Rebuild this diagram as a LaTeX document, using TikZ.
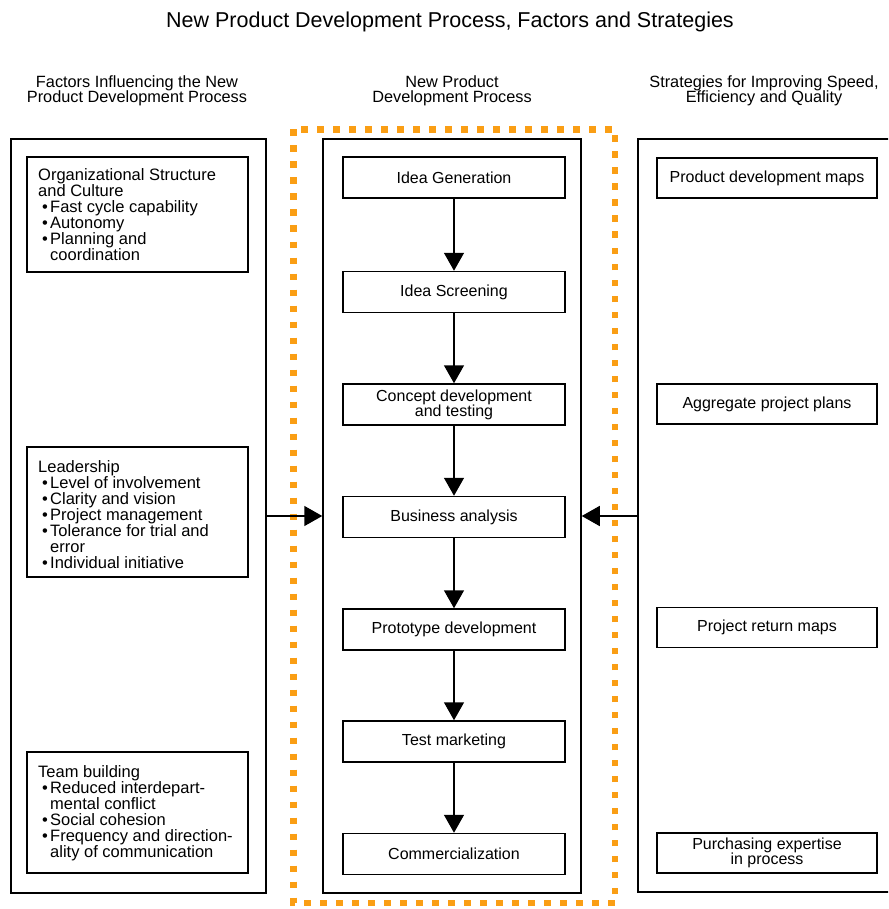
\documentclass[tikz,border=0pt]{standalone}
\usepackage{fontspec}
\setmainfont{Liberation Sans}
\usetikzlibrary{arrows.meta}
\definecolor{npdorange}{RGB}{250,158,20}
% bullet and continuation indents for the factor lists
\newcommand{\bitem}{\hspace*{4pt}\makebox[8pt][l]{\textbullet}}
\newcommand{\cont}{\hspace*{12pt}}
\begin{document}
\begin{tikzpicture}[x=1pt,y=-1pt,
  frame/.style={draw, line width=1.5pt, inner sep=0pt},
  stage/.style={draw, line width=1.5pt, inner sep=0pt, minimum width=222pt,
    minimum height=41pt, align=center, font=\fontsize{16}{15}\selectfont},
  strat/.style={draw, line width=1.5pt, inner sep=0pt, minimum width=220pt,
    minimum height=40pt, align=center, font=\fontsize{16}{15}\selectfont},
  factor/.style={draw, line width=1.5pt, inner sep=0pt, minimum width=221pt},
  factortext/.style={anchor=north west, inner sep=0pt, align=left,
    font=\fontsize{16.5}{16}\selectfont},
  header/.style={anchor=north, inner sep=0pt, align=center,
    font=\fontsize{16.3}{15.5}\selectfont},
  flow/.style={line width=1.5pt, -{Triangle[length=18pt,width=20pt]}},
  dotline/.style={draw=npdorange, line width=6.5pt, dash pattern=on 6.5pt off 9.5pt}]
\fill[white] (0,0) rectangle (888,909);
\useasboundingbox (0,0) rectangle (888,909);
\clip (0,0) rectangle (888,909);

% title and column headers
\node[anchor=base, inner sep=0pt, font=\fontsize{21.5}{22}\selectfont] (title) at (450,28)
  {New Product Development Process, Factors and Strategies};
\node[header] (hleft) at (137,75) {Factors Influencing the New\\Product Development Process};
\node[header] (hmid) at (452,75) {New Product\\Development Process};
\node[header] (hright) at (764,75) {Strategies for Improving Speed,\\Efficiency and Quality};

% dotted highlight around the process column
\draw[dotline] (293.5,129.5) rectangle (615,903);

% column frames
\node[frame, minimum width=255pt, minimum height=754pt] (left) at (138.5,516) {};
\node[frame, minimum width=258pt, minimum height=754pt] (mid) at (452,516) {};
\node[frame, minimum width=262pt, minimum height=753pt] (right) at (769,515.5) {};

% factors
\node[factor, minimum height=115pt] (f1) at (137.5,214.5) {};
\node[factortext] (f1t) at (38,168) {Organizational Structure\\and Culture\\
  \bitem Fast cycle capability\\ \bitem Autonomy\\ \bitem Planning and\\ \cont coordination};
\node[factor, minimum height=130pt] (f2) at (137.5,512) {};
\node[factortext] (f2t) at (38,460) {Leadership\\ \bitem Level of involvement\\
  \bitem Clarity and vision\\ \bitem Project management\\ \bitem Tolerance for trial and\\
  \cont error\\ \bitem Individual initiative};
\node[factor, minimum height=121pt] (f3) at (137.5,812.5) {};
\node[factortext] (f3t) at (38,765) {Team building\\ \bitem Reduced interdepart-\\
  \cont mental conflict\\ \bitem Social cohesion\\ \bitem Frequency and direction-\\
  \cont ality of communication};

% process stages
\node[stage] (s1) at (454,177.5) {Idea Generation};
\node[stage] (s2) at (454,292) {Idea Screening};
\node[stage] (s3) at (454,404.5) {Concept development\\and testing};
\node[stage] (s4) at (454,517) {Business analysis};
\node[stage] (s5) at (454,629.5) {Prototype development};
\node[stage] (s6) at (454,741.5) {Test marketing};
\node[stage] (s7) at (454,854) {Commercialization};
\foreach \a/\b in {s1/s2,s2/s3,s3/s4,s4/s5,s5/s6,s6/s7}
  \draw[flow] (\a) -- (\b);

% strategies
\node[strat] (r1) at (767,178) {Product development maps};
\node[strat] (r2) at (767,404) {Aggregate project plans};
\node[strat] (r3) at (767,627.5) {Project return maps};
\node[strat] (r4) at (767,853) {Purchasing expertise\\in process};

% influences on the process
\draw[flow] (left.east) -- (mid.west);
\draw[flow] (right.west |- left.east) -- (mid.east |- left.east);
\end{tikzpicture}
\end{document}
